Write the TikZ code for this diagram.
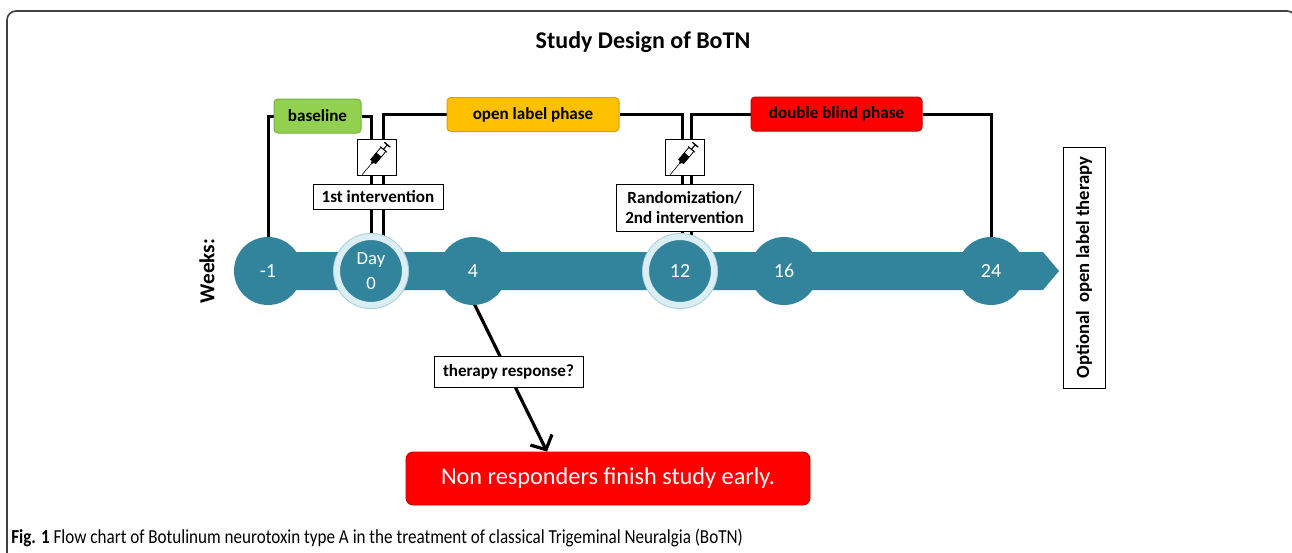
\documentclass[tikz,border=0pt]{standalone}
\usepackage{fontspec}
\setmainfont{Carlito}
\newfontfamily\capfont[FakeStretch=0.86]{Carlito}
\usetikzlibrary{arrows.meta,backgrounds,calc}
\newdimen\pxu \pxu=0.75pt
\definecolor{tealc}{HTML}{31849B}
\definecolor{ringc}{HTML}{DAEEF3}
\definecolor{ringe}{HTML}{A9CFDB}
\definecolor{greenc}{HTML}{92D050}
\definecolor{greene}{HTML}{76B041}
\definecolor{yellc}{HTML}{FFC000}
\definecolor{yelle}{HTML}{D9A300}
\definecolor{redc}{HTML}{FF0000}
\definecolor{rede}{HTML}{C00000}
\definecolor{framec}{HTML}{404040}
\tikzset{
  phase/.style={draw, line width=1\pxu, rounded corners=4\pxu, minimum height=34\pxu,
    font=\bfseries\fontsize{12.8}{14}\selectfont, text=black},
  wbox/.style={draw=black, fill=white, line width=1\pxu, font=\bfseries\fontsize{12.8}{15}\selectfont,
    align=center, inner sep=2\pxu},
  syrbox/.style={draw=black, fill=white, line width=1\pxu, minimum width=39\pxu, minimum height=36\pxu},
  wk/.style={circle, fill=tealc, minimum size=68\pxu, inner sep=0pt, text=white,
    font=\fontsize{15}{17}\selectfont, align=center},
  ringed/.style={draw=ringc, line width=6\pxu, preaction={draw=ringe, line width=8\pxu}},
  conn/.style={draw=black, line width=3\pxu},
  resparrow/.style={draw=black, line width=2.4pt, -{Straight Barb[length=8.25pt, width=18pt]}},
}
\newcommand{\syringe}[1]{%
  \begin{scope}[shift={(#1)}, rotate=50]
    \draw[line width=0.6\pxu] (-23,0) -- (-8,0);
    \fill (-8,-1.2) rectangle (-6,1.2);
    \fill (-6,-3.2) rectangle (3,3.2);
    \draw[line width=0.8\pxu] (-6,-3.2) rectangle (10,3.2);
    \draw[line width=1.1\pxu] (10,0) -- (16,0);
    \draw[line width=1.3\pxu] (16,-3.8) -- (16,3.8);
    \draw[line width=0.9\pxu] (10,-4.4) -- (10,4.4);
  \end{scope}}
\begin{document}
\begin{tikzpicture}[x=0.75pt, y=-0.75pt]
\useasboundingbox (0,0) rectangle (1292,553);
\begin{pgfonlayer}{background}
\fill[white] (0,0) rectangle (1292,553);
\begin{scope}
  \clip (0,0) rectangle (1292,553);
  \draw[framec, line width=1.6\pxu, rounded corners=9\pxu] (7,620) -- (7,11) -- (1296,11) -- (1296,620);
\end{scope}
\end{pgfonlayer}

\node[font=\bfseries\fontsize{18}{20}\selectfont] (title) at (643,42) {Study Design of BoTN};

% timeline bar
\fill[tealc] (268,252) -- (1043,252) -- (1059,271) -- (1043,290) -- (268,290) -- cycle;

% week circles
\node[wk] (m1) at (268,271) {-1};
\node[wk, ringed, font=\fontsize{14}{19}\selectfont] (d0) at (371,271) {Day\\0};
\node[wk] (w4) at (473,271) {4};
\node[wk, ringed] (w12) at (680,271) {12};
\node[wk] (w16) at (784,271) {16};
\node[wk] (w24) at (991,271) {24};

\node[rotate=90, font=\bfseries\fontsize{16}{18}\selectfont] (weeks) at (207,271) {Weeks:};

% phase boxes
\node[phase, fill=greenc, draw=greene, minimum width=87\pxu] (baseline) at (317.5,116) {baseline};
\node[phase, fill=yellc, draw=yelle, minimum width=172\pxu] (openlabel) at (533,114.5) {open label phase};
\node[phase, fill=redc, draw=rede, minimum width=171\pxu] (dblind) at (836.5,114) {double blind phase};

% syringes and interventions
\node[syrbox] (syr1) at (377,157) {};
\syringe{syr1.center}
\node[syrbox] (syr2) at (685,157) {};
\syringe{syr2.center}
\node[wbox, minimum width=130\pxu, minimum height=25\pxu] (int1) at (378,196.5) {1st intervention};
\node[wbox, minimum width=137\pxu, minimum height=47\pxu] (rand) at (684.5,207.5) {Randomization/\\2nd intervention};

% optional box
\node[wbox, rotate=90, minimum width=241\pxu, minimum height=42\pxu, font=\bfseries\fontsize{14}{16}\selectfont]
  (optional) at (1084,267.5) {Optional~ open label therapy};

% therapy response
\node[wbox, minimum width=149\pxu, minimum height=31\pxu] (resp) at (508.5,371.5) {therapy response?};
\node[fill=redc, draw=rede, line width=0.8\pxu, rounded corners=7\pxu, minimum width=404\pxu, minimum height=53\pxu,
  text=white, font=\fontsize{18.2}{20}\selectfont] (nonresp) at (608,478.5) {Non responders finish study early.};
\coordinate (arrend) at ($(nonresp.north)+(-61,0)$);

% caption
\node[anchor=west, inner sep=0pt, font=\capfont\fontsize{14.9}{16}\selectfont] (caption) at (11,538)
  {\textbf{Fig. 1} Flow chart of Botulinum neurotoxin type A in the treatment of classical Trigeminal Neuralgia (BoTN)};

% connectors behind the nodes
\begin{pgfonlayer}{background}
  \draw[conn] (baseline.west) -| (m1.center);
  \draw[conn] (baseline.east) -| (d0.center);
  \draw[conn] (openlabel.west) -| ($(d0.center)+(12,0)$);
  \draw[conn] (openlabel.east) -| ($(w12.center)+(2,0)$);
  \draw[conn] (dblind.west) -| ($(w12.center)+(11,0)$);
  \draw[conn] (dblind.east) -| (w24.center);
  \draw[resparrow] ($(w4.south)+(0,-4)$) -- (arrend);
\end{pgfonlayer}
\end{tikzpicture}
\end{document}
